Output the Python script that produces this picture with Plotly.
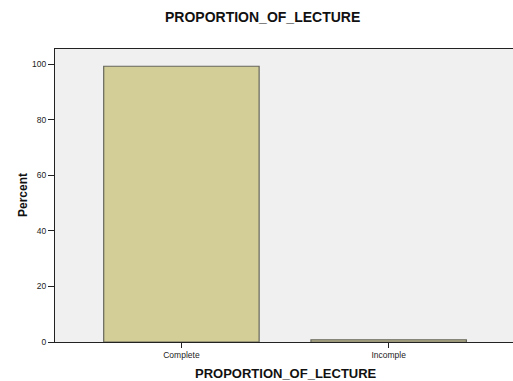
import plotly.graph_objects as go

categories = ["Complete", "Incomple"]
percent_values = [99.2, 0.8]
y_tick_values = [0, 20, 40, 60, 80, 100]

W, H = 513, 381
L, R, T, B = 55, 0, 49, 39
PW, PH = W - L - R, H - T - B
font_family = "Liberation Sans, Arial, sans-serif"


def px_x(x_page):
    return (x_page - L) / PW


def px_y(y_page):
    return (H - B - y_page) / PH


fig = go.Figure()
fig.add_trace(go.Bar(
    x=categories,
    y=percent_values,
    width=0.75,
    marker=dict(color="#D3CD98", line=dict(color="#66665C", width=1.2)),
))

fig.update_layout(
    width=W, height=H,
    margin=dict(l=L, r=R, t=T, b=B, autoexpand=False),
    paper_bgcolor="white",
    plot_bgcolor="#F0F0F0",
    showlegend=False,
    font=dict(family=font_family),
    annotations=[
        dict(text="<b>PROPORTION_OF_LECTURE</b>", xref="paper", yref="paper",
             x=px_x(262), y=px_y(17), xanchor="center", yanchor="middle",
             showarrow=False, font=dict(size=14, color="#111")),
        dict(text="<b>PROPORTION_OF_LECTURE</b>", xref="paper", yref="paper",
             x=px_x(286), y=px_y(373), xanchor="center", yanchor="middle",
             showarrow=False, font=dict(size=13, color="#111")),
        dict(text="<b>Percent</b>", xref="paper", yref="paper",
             x=px_x(23), y=px_y(195), xanchor="center", yanchor="middle",
             textangle=-90, showarrow=False, font=dict(size=12, color="#111")),
    ],
)
fig.update_xaxes(
    range=[-0.61, 1.6],
    showline=True, linecolor="#222", linewidth=1, mirror=True,
    ticks="outside", ticklen=5, tickcolor="#222",
    tickfont=dict(size=8.5, color="#222"),
    showgrid=False, automargin=False,
)
fig.update_yaxes(
    range=[0, 105.4],
    tickvals=y_tick_values,
    showline=True, linecolor="#222", linewidth=1, mirror=False,
    ticks="outside", ticklen=6, tickcolor="#222",
    tickfont=dict(size=8.5, color="#222"),
    showgrid=False, zeroline=False, automargin=False,
)

fig.write_html(
    "out.html",
    config={"displayModeBar": False},
    post_script="document.body.style.margin='0';document.documentElement.style.overflow='hidden';",
)
